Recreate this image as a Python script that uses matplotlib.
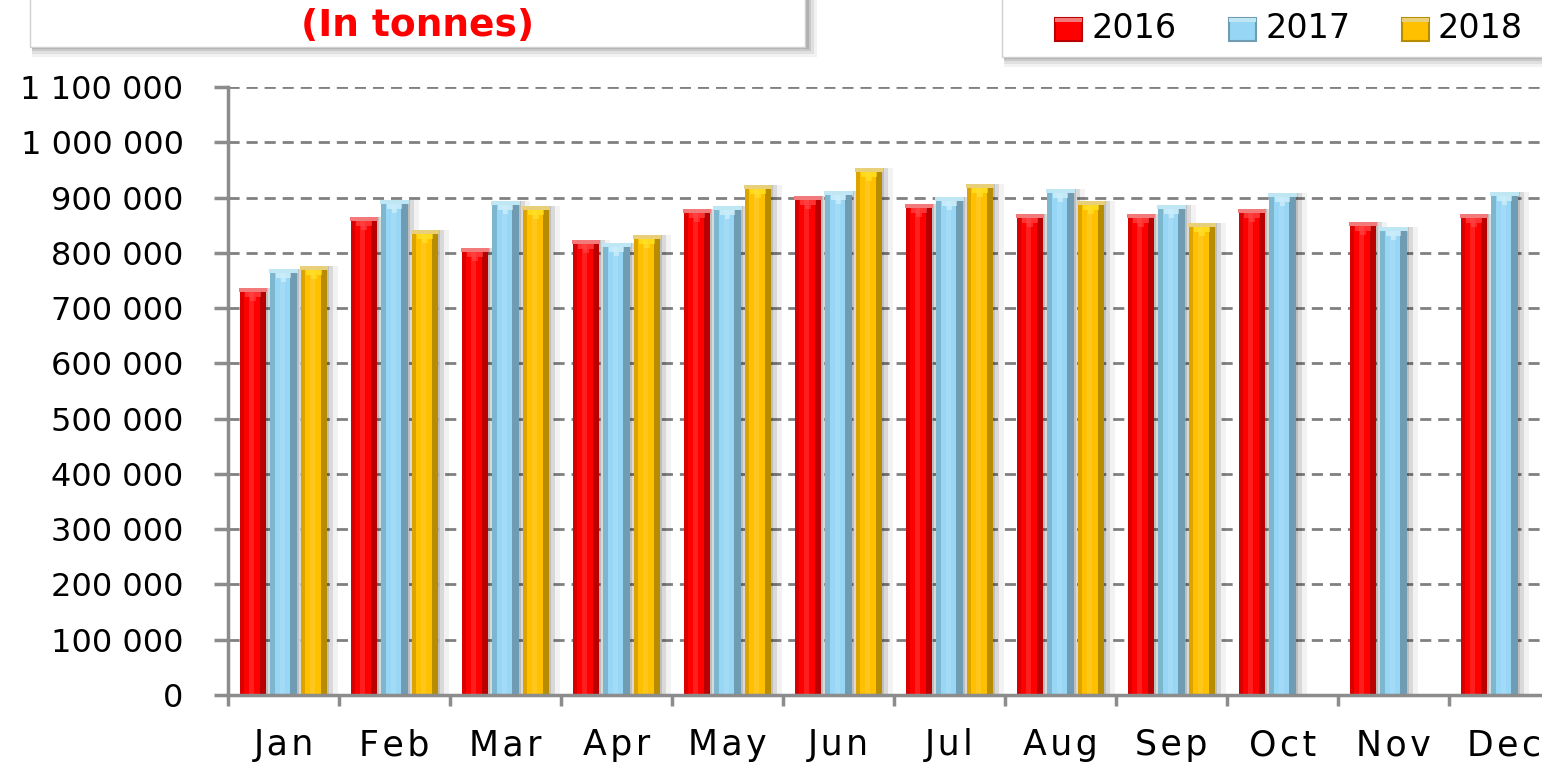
import numpy as np
import matplotlib
matplotlib.use("Agg")
import matplotlib.pyplot as plt
from matplotlib.patches import Rectangle
from matplotlib.ticker import FuncFormatter, FixedLocator

# ---------------- data ----------------
months = ["Jan", "Feb", "Mar", "Apr", "May", "Jun", "Jul", "Aug", "Sep", "Oct", "Nov", "Dec"]
years = ["2016", "2017", "2018"]
v2016 = [737000, 864000, 809000, 823000, 879000, 902000, 888000, 870000, 870000, 879000, 855000, 870000]
v2017 = [771000, 895000, 893000, 818000, 884000, 911000, 901000, 916000, 887000, 908000, 846000, 910000]
v2018 = [776000, 841000, 885000, 832000, 922000, 954000, 925000, 893000, 854000, None, None, None]
yticks = [0, 100000, 200000, 300000, 400000, 500000, 600000, 700000, 800000, 900000, 1000000, 1100000]
title_text = "(In tonnes)"

# ---------------- styles ----------------
styles = [
    dict(base="#FF0000", left="#D80000", right="#B80000", rim="#F27A7A", hi="#FF5A5A"),
    dict(base="#97D6F4", left="#7DB6CF", right="#6F9CB2", rim="#BFE6F3", hi="#EAFBFF"),
    dict(base="#FFC000", left="#DDA400", right="#B88C00", rim="#E8CF7A", hi="#FFF030"),
]
offsets = [-0.275, 0.0, 0.275]
W = 0.235

W_PX, H_PX = 1542, 762
fig = plt.figure(figsize=(W_PX / 100, H_PX / 100), dpi=100)
fig.patch.set_facecolor("white")

def fx(px):
    return px / W_PX

def fy(py):
    return 1 - py / H_PX

ax_left, ax_right, ax_top, ax_bot = 228, 228 + 12 * 111, 87, 695
ax = fig.add_axes([fx(ax_left), fy(ax_bot), fx(ax_right - ax_left), (ax_bot - ax_top) / H_PX])
ax.set_xlim(0, 12)
ax.set_ylim(0, 1100000)

upx = 1100000 / (ax_bot - ax_top)  # data units per pixel (vertical)
xpx = 1 / 111.0                    # data units per pixel (horizontal)

def fancy(ax, xs, hs, st):
    xs = np.asarray(xs, float)
    hs = np.asarray(hs, float)
    # soft shadow
    ax.bar(xs + 6 * xpx, hs, W + 10 * xpx, color="#000000", alpha=0.05, zorder=2, linewidth=0)
    ax.bar(xs + 4 * xpx, hs, W + 4 * xpx, color="#000000", alpha=0.10, zorder=2, linewidth=0)
    ax.bar(xs + 2 * xpx, hs, W, color="#000000", alpha=0.12, zorder=2, linewidth=0)
    # main body
    ax.bar(xs, hs, W, color=st["base"], zorder=3, linewidth=0)
    ax.bar(xs - W / 2 + W * 0.08, hs, W * 0.16, color=st["left"], zorder=4, linewidth=0)
    ax.bar(xs + W / 2 - W * 0.12, hs, W * 0.24, color=st["right"], zorder=4, linewidth=0)
    ax.bar(xs - W * 0.05, hs, W * 0.18, color="white", alpha=0.12, zorder=4, linewidth=0)
    # top cap
    rim = 4 * upx
    ax.bar(xs, rim, W + 2 * xpx, bottom=hs - rim, color=st["rim"], zorder=5, linewidth=0)
    ax.bar(xs, 5 * upx, W * 0.6, bottom=hs - rim - 5 * upx, color=st["hi"], alpha=0.55, zorder=5, linewidth=0)
    ax.bar(xs, 4 * upx, W * 0.22, bottom=hs - rim - 9 * upx, color=st["hi"], alpha=0.45, zorder=5, linewidth=0)

centers = np.arange(12) + 0.5
for vals, st, off in zip([v2016, v2017, v2018], styles, offsets):
    idx = [i for i, v in enumerate(vals) if v is not None]
    fancy(ax, centers[idx] + off, [vals[i] for i in idx], st)

# grid & axes
ax.set_yticks(yticks)
ax.yaxis.set_major_formatter(FuncFormatter(lambda v, p: f"{int(v):,}".replace(",", " ")))
ax.grid(axis="y", color="#808080", linestyle=(0, (4, 2.5)), linewidth=2.0, zorder=1)
ax.set_axisbelow(True)
for s in ["top", "right"]:
    ax.spines[s].set_visible(False)
for s in ["left", "bottom"]:
    ax.spines[s].set_color("#8C8C8C")
    ax.spines[s].set_linewidth(2.5)
    ax.spines[s].set_zorder(6)

ax.set_xticks(centers)
ax.set_xticklabels(["\u200a".join(m) for m in months])
ax.xaxis.set_minor_locator(FixedLocator(np.arange(0, 13)))
ax.tick_params(axis="x", which="major", length=0, pad=24, labelsize=25)
ax.tick_params(axis="x", which="minor", length=8, width=2.5, color="#8C8C8C", direction="out")
ax.tick_params(axis="y", which="major", length=10, width=2.5, color="#8C8C8C", pad=22, labelsize=23)
for lab in ax.get_xticklabels() + ax.get_yticklabels():
    lab.set_fontfamily("DejaVu Sans")
    lab.set_color("black")

# ---------------- boxes with shadows ----------------
def shadow_box(x0, y0, x1, y1):
    for k, a in [(10, 0.05), (7, 0.07), (4, 0.10), (2, 0.12)]:
        fig.add_artist(Rectangle((fx(x0 + 2), fy(y1 + k)), fx(x1 - x0 + k), (y1 - y0 + k) / H_PX,
                                 transform=fig.transFigure, facecolor="black", alpha=a,
                                 edgecolor="none", zorder=1))
    fig.add_artist(Rectangle((fx(x0), fy(y1)), fx(x1 - x0), (y1 - y0) / H_PX,
                             transform=fig.transFigure, facecolor="white",
                             edgecolor="#D0D0D0", linewidth=1, zorder=2))

shadow_box(30, -20, 805, 47)
fig.text(fx(418), fy(26), title_text, color="#FF0000", fontsize=27, fontweight="bold",
         family="DejaVu Sans", ha="center", va="center", zorder=3)

shadow_box(1002, -20, 1580, 57)
leg_x = [1055, 1229, 1402]
for lx, yr, st in zip(leg_x, years, styles):
    fig.add_artist(Rectangle((fx(lx), fy(41)), fx(27), 23 / H_PX, transform=fig.transFigure,
                             facecolor=st["base"], edgecolor=st["right"], linewidth=1.5, zorder=3))
    fig.add_artist(Rectangle((fx(lx), fy(22)), fx(27), 4 / H_PX, transform=fig.transFigure,
                             facecolor=st["rim"], edgecolor="none", zorder=4))
    fig.text(fx(lx + 36), fy(29), yr, fontsize=24, family="DejaVu Sans", ha="left",
             va="center", color="black", zorder=3)

fig.savefig("out.png", dpi=100)
